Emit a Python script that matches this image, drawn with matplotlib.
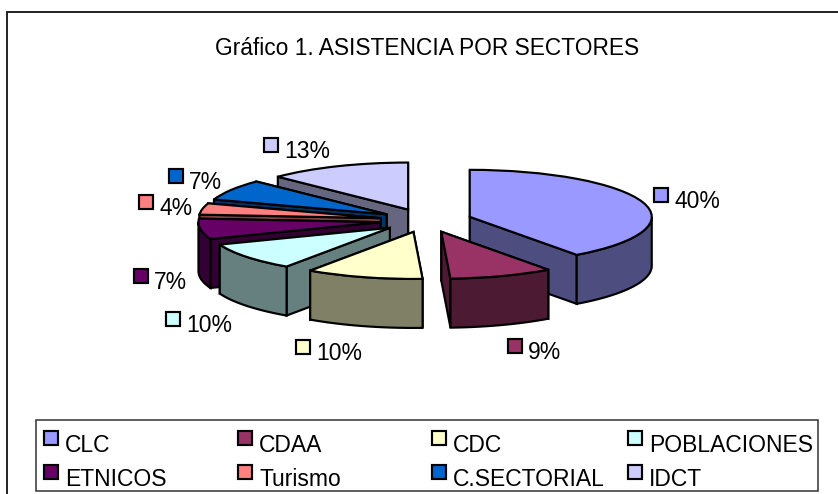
import numpy as np
import matplotlib
matplotlib.use("Agg")
import matplotlib.pyplot as plt
from matplotlib.patches import Polygon, Rectangle
from matplotlib.colors import to_rgb

plt.rcParams['font.family'] = ['Liberation Sans', 'DejaVu Sans']

# ---- data ----
categories = ["CLC", "CDAA", "CDC", "POBLACIONES", "ETNICOS", "Turismo", "C.SECTORIAL", "IDCT"]
percent = [40.0, 9.2, 10.4, 9.6, 7.0, 3.9, 7.2, 12.7]
colors = ["#9999FF", "#993366", "#FFFFCC", "#CCFFFF", "#660066", "#FF8080", "#0066CC", "#CCCCFF"]
title = "Gráfico 1. ASISTENCIA POR SECTORES"

# ---- layout (pixels of the 838x494 canvas) ----
W, H = 838, 494
CX, CY, RX, RY, DEPTH = 426, 220.5, 182, 47, 49
EXPLODE = 46 / 182
LW = 1.55
label_keys = [(654, 188), (508, 339), (296, 340), (166, 312), (134, 269), (139, 195), (169, 169), (264, 138)]
legend_cols = [44, 238, 432, 628]
legend_rows = [431, 465]
FS = 16.5

fig = plt.figure(figsize=(W / 100, H / 100), dpi=100, facecolor="white")
ax = fig.add_axes([0, 0, 1, 1])

explode = [EXPLODE] * len(percent)
wedges, _ = ax.pie(percent, explode=explode, colors=colors, startangle=90, counterclock=False,
                   radius=1, frame=False, normalize=True,
                   wedgeprops=dict(edgecolor="black", linewidth=LW, joinstyle="miter"))

ax.set_aspect("auto")
ax.set_xlim((0 - CX) / RX, (W - CX) / RX)
ax.set_ylim((CY - H) / RY, CY / RY)
ax.axis("off")
d = DEPTH / RY


def shade(c):
    return tuple(0.5 * v for v in to_rgb(c))


def px(x, y):
    return ((x - CX) / RX, (CY - y) / RY)


# walls and draw order, all derived from the values
fractions = np.array(percent, float) / sum(percent)
edges = np.concatenate([[0], np.cumsum(fractions)]) * 2 * np.pi  # clockwise from 12 o'clock
paint_order = [7, 6, 5, 4, 3, 2, 0, 1]
z = 2
for i in paint_order:
    a0, a1 = edges[i], edges[i + 1]
    mid = (a0 + a1) / 2
    ax_, ay_ = EXPLODE * np.sin(mid), EXPLODE * np.cos(mid)
    dark = shade(colors[i])
    faces = []
    for a in (a0, a1):
        rx_, ry_ = ax_ + np.sin(a), ay_ + np.cos(a)
        faces.append(((ay_ + ry_) / 2, [(ax_, ay_), (rx_, ry_), (rx_, ry_ - d), (ax_, ay_ - d)]))
    faces.sort(key=lambda f: -f[0])  # farther faces first
    for _, pts in faces:
        ax.add_patch(Polygon(pts, closed=True, facecolor=dark, edgecolor="black", lw=LW, zorder=z,
                             joinstyle="miter"))
        z += 1
    # outer cylinder wall: the part of the arc facing the viewer
    lo, hi = max(a0, np.pi / 2), min(a1, 3 * np.pi / 2)
    if hi > lo:
        t = np.linspace(lo, hi, 60)
        xs, ys = ax_ + np.sin(t), ay_ + np.cos(t)
        pts = np.r_[np.c_[xs, ys], np.c_[xs, ys - d][::-1]]
        ax.add_patch(Polygon(pts, closed=True, facecolor=dark, edgecolor="black", lw=LW, zorder=z,
                             joinstyle="miter"))
        z += 1
    wedges[i].set_zorder(z)
    z += 1


def key(x, y, w, color):
    x0, y0 = px(x, y + w)
    x1, y1 = px(x + w, y)
    ax.add_patch(Rectangle((x0, y0), x1 - x0, y1 - y0, facecolor=color, edgecolor="black",
                           lw=LW, zorder=100, clip_on=False))


def text(x, y, s, **kw):
    tx, ty = px(x, y)
    ax.text(tx, ty, s, color="black", zorder=101, va="baseline", **kw)


# data labels
for (kx, ky), c, p in zip(label_keys, colors, percent):
    key(kx, ky, 14, c)
    text(kx + 20, ky + 20, f"{p:.0f}%", fontsize=FS, ha="left")

# title
text(427, 55, title, fontsize=16.4, ha="center")

# chart frame (left and top edges reach the crop)
ax.plot(*zip(px(6.5, H), px(6.5, 12), px(W, 12)), color="#222222", lw=1.4, zorder=1, solid_joinstyle="miter")

# legend
x0, y0 = px(36, 491)
x1, y1 = px(818, 420)
ax.add_patch(Rectangle((x0, y0), x1 - x0, y1 - y0, facecolor="white", edgecolor="#333333", lw=1.1, zorder=90))
for n, (c, name) in enumerate(zip(colors, categories)):
    kx = legend_cols[n % 4]
    ky = legend_rows[n // 4]
    key(kx, ky, 14, c)
    text(kx + 21, ky + 21, name, fontsize=FS, ha="left")

fig.savefig("out.png", dpi=100, facecolor="white")
